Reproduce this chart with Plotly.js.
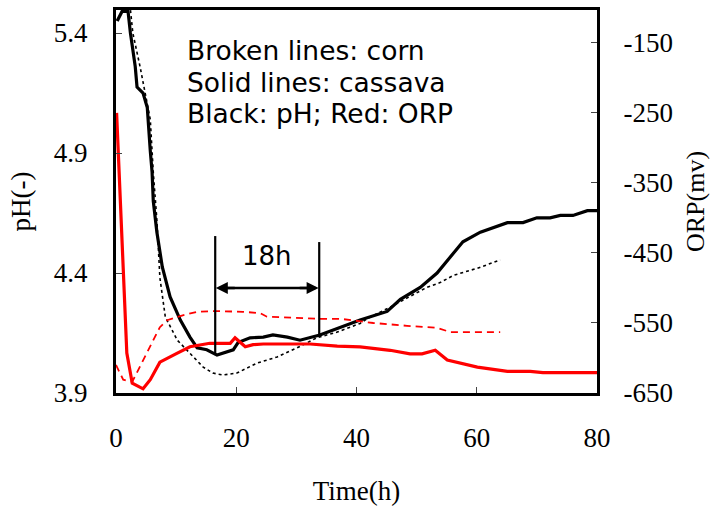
<!DOCTYPE html>
<html><head><meta charset="utf-8">
<script src="https://cdn.plot.ly/plotly-3.0.1.min.js"></script>
<style>html,body{margin:0;padding:0;background:#fff}</style>
</head><body><div id="c" style="width:717px;height:506px"></div>
<script>
// cassava pH (solid black)
const cassavaPhTime = [0.2,1,2,2.4,3.2,3.5,4.5,5.2,5.7,6.0,6.2,6.8,7.7,9.0,10.7,12.3,13.5,15.1,16.8,18.5,19.5,20.3,22.3,24.5,26.1,28.5,30.6,33.9,36.8,40.6,45.1,47.3,50.6,53.4,55.6,57.7,60.6,62.7,65.1,67.7,70.0,72.2,73.9,76.0,78.4,80];
const cassavaPh = [5.45,5.49,5.49,5.40,5.26,5.175,5.15,5.09,4.91,4.82,4.70,4.57,4.425,4.30,4.204,4.133,4.088,4.08,4.058,4.071,4.08,4.11,4.13,4.133,4.142,4.133,4.12,4.142,4.17,4.204,4.24,4.29,4.34,4.40,4.467,4.53,4.57,4.59,4.61,4.61,4.63,4.63,4.64,4.64,4.66,4.66];
// corn pH (broken black)
const cornPhTime = [2.3,2.8,4.0,5.7,6.2,6.5,6.8,7.3,8.2,10.2,12.3,14.5,16.1,17.8,20.1,23.5,26.8,30.1,33.4,36.8,40.6,41.8,45.6,48.4,51.7,53.9,56.1,60.1,63.9];
const cornPh = [5.52,5.40,5.26,5.04,4.82,4.733,4.62,4.38,4.217,4.12,4.067,4.008,3.983,3.975,3.983,4.025,4.05,4.088,4.13,4.154,4.19,4.21,4.258,4.296,4.34,4.36,4.39,4.42,4.454];
// cassava ORP (solid red)
const cassavaOrpTime = [0.1,0.7,1.2,1.8,2.7,4.5,5.7,7.3,10.2,12.3,15.6,19.0,19.8,21.5,22.8,24.5,27.8,32.3,36.8,40.6,45.6,48.9,50.9,53.1,55.1,57.2,60.1,65.1,68.9,71.0,80];
const cassavaOrp = [-250,-374,-489,-593,-636,-644,-631,-606,-593,-584,-579,-579,-571,-584,-581,-580,-580,-580,-583,-584,-589,-594,-594,-589,-603,-607,-613,-619,-619,-621,-621];
// corn ORP (broken red)
const cornOrpTime = [0,1.2,2.7,4.5,6.2,7.3,8.5,11.1,13.5,16.8,21.1,24.0,25.1,30.1,33.4,37.3,42.8,48.4,53.4,55.6,63.9];
const cornOrp = [-610,-631,-634,-603,-574,-556,-546,-539,-534,-533,-534,-536,-541,-543,-544,-544,-550,-554,-557,-563,-563];
// tick labels
const timeTicks = [0,20,40,60,80];
const phTicks = [3.9,4.4,4.9,5.4];
const phTickText = ['3.9','4.4','4.9','5.4'];
const orpTicks = [-650,-550,-450,-350,-250,-150];
const orpTickText = ['-650','-550','-450','-350','-250','-150'];

const traces = [
  {x: cornPhTime, y: cornPh, mode:'lines', line:{color:'#000', width:1.6, dash:'3px,3px'}, yaxis:'y'},
  {x: cornOrpTime, y: cornOrp, mode:'lines', line:{color:'#ff0000', width:1.8, dash:'7px,5px'}, yaxis:'y2'},
  {x: cassavaOrpTime, y: cassavaOrp, mode:'lines', line:{color:'#ff0000', width:3.2}, yaxis:'y2'},
  {x: cassavaPhTime, y: cassavaPh, mode:'lines', line:{color:'#000', width:3.2}, yaxis:'y'}
];

const SERIF = 'Liberation Serif';
const f = (s) => ({family:SERIF, size:s, color:'#000'});
const sansF = (s) => ({family:'DejaVu Sans', size:s, color:'#000'});

const layout = {
  width:717, height:506,
  margin:{l:116, r:120, t:10, b:113},
  paper_bgcolor:'#fff', plot_bgcolor:'#fff',
  showlegend:false,
  xaxis:{range:[0,80], tickvals:timeTicks, ticktext:timeTicks.map(String), ticks:'inside', ticklen:6, tickcolor:'#444',
    showline:true, linewidth:3, linecolor:'#000', mirror:true, showgrid:false, zeroline:false,
    tickfont:f(27), ticklabelstandoff:19,
    title:{text:'Time(h)', font:f(27), standoff:30}},
  yaxis:{range:[3.9,5.496], tickvals:phTicks, ticktext:phTickText, ticks:'inside', ticklen:6, tickcolor:'#444',
    showline:true, linewidth:3, linecolor:'#000', showgrid:false, zeroline:false,
    tickfont:f(27), ticklabelstandoff:20,
    title:{text:'pH(-)', font:f(27), standoff:16}},
  yaxis2:{range:[-650,-103], tickvals:orpTicks, ticktext:orpTickText, overlaying:'y', side:'right', ticks:'inside', ticklen:6, tickcolor:'#444',
    showline:true, linewidth:3, linecolor:'#000', showgrid:false, zeroline:false,
    tickfont:f(27), ticklabelstandoff:18,
    title:{text:'ORP(mv)', font:f(26), standoff:14}},
  shapes:[
    {type:'line', xref:'x', yref:'y', x0:16.5, x1:16.5, y0:4.554, y1:4.058, line:{color:'#000', width:2.2}},
    {type:'line', xref:'x', yref:'y', x0:33.8, x1:33.8, y0:4.529, y1:4.133, line:{color:'#000', width:2.2}},
    {type:'line', xref:'x', yref:'y', x0:18, x1:32.3, y0:4.3375, y1:4.3375, line:{color:'#000', width:2.4}}
  ],
  annotations:[
    {xref:'paper', yref:'paper', x:0.143, y:0.893, xanchor:'left', yanchor:'middle', showarrow:false, align:'left', font:sansF(26.5), text:'Broken lines: corn'},
    {xref:'paper', yref:'paper', x:0.143, y:0.810, xanchor:'left', yanchor:'middle', showarrow:false, align:'left', font:sansF(26.5), text:'Solid lines: cassava'},
    {xref:'paper', yref:'paper', x:0.143, y:0.729, xanchor:'left', yanchor:'middle', showarrow:false, align:'left', font:sansF(26.5), text:'Black: pH; Red: ORP'},
    {xref:'x', yref:'y', x:25.15, y:4.47, showarrow:false, font:sansF(26), text:'18h'},
    {xref:'x', yref:'y', axref:'x', ayref:'y', x:16.6, y:4.3375, ax:20, ay:4.3375, showarrow:true, arrowhead:2, arrowsize:1, arrowwidth:2.4, arrowcolor:'#000', text:''},
    {xref:'x', yref:'y', axref:'x', ayref:'y', x:33.7, y:4.3375, ax:30.3, ay:4.3375, showarrow:true, arrowhead:2, arrowsize:1, arrowwidth:2.4, arrowcolor:'#000', text:''}
  ]
};
Plotly.newPlot('c', traces, layout, {staticPlot:true, displayModeBar:false});
</script></body></html>
